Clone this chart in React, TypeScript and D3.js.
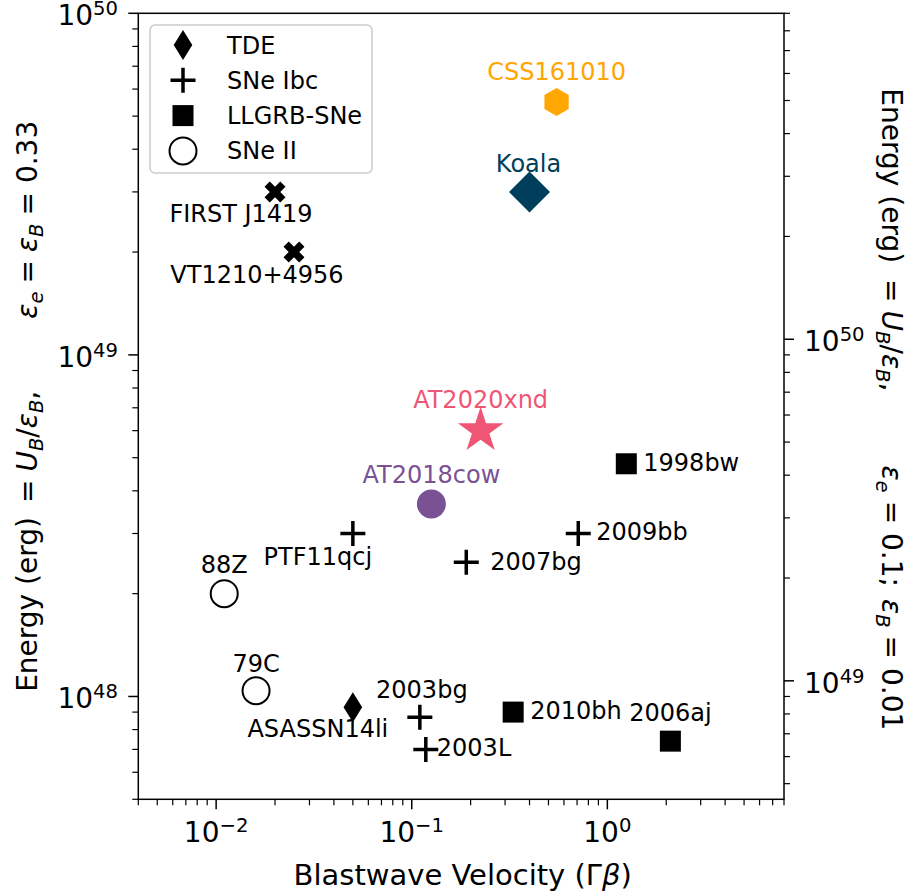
import React from 'react';
import * as d3 from 'd3';

// events shown on the plot
const names = ['FIRST J1419', 'VT1210+4956', 'CSS161010', 'Koala', 'AT2020xnd', 'AT2018cow', '1998bw', '2009bb', '2007bg', 'PTF11qcj', '88Z', '79C', 'ASASSN14li', '2003bg', '2003L', '2010bh', '2006aj'];
const velocity = [0.02, 0.025, 0.55, 0.40, 0.225, 0.126, 1.25, 0.71, 0.19, 0.05, 0.011, 0.016, 0.05, 0.11, 0.118, 0.33, 2.1];
const energy = [3e49, 2e49, 5.5e49, 3e49, 6e48, 3.66e48, 4.8e48, 3e48, 2.47e48, 3e48, 2e48, 1.04e48, 9.3e47, 8.7e47, 7e47, 9e47, 7.4e47];
const kinds = ['x', 'x', 'css', 'koala', 'xnd', 'cow', 'llgrb', 'ibc', 'ibc', 'ibc', 'ii', 'ii', 'tde', 'ibc', 'ibc', 'llgrb', 'llgrb'];

// label offsets from the marker (px): dx, dy to baseline, anchor
const labelPlacement: [number, number, string][] = [
  [-34, 30, 'middle'], [-37, 31, 'middle'], [0, -22, 'middle'], [-1, -20, 'middle'],
  [0, -23, 'middle'], [0, -21, 'middle'], [17, 7, 'start'], [18, 7, 'start'],
  [24, 8, 'start'], [-35, 32, 'middle'], [0, -21, 'middle'], [0, -19, 'middle'],
  [-35, 30, 'middle'], [2, -19, 'middle'], [11, 7, 'start'], [17, 7, 'start'], [0, -20, 'middle'],
];

const legendKinds = ['tde', 'ibc', 'llgrb', 'ii'];
const legendLabels = ['TDE', 'SNe Ibc', 'LLGRB-SNe', 'SNe II'];

const xDomain = [0.004, 8];
const yDomain = [5e47, 1e50];
const rightFactor = 9;

const colors: Record<string, string> = {
  css: '#ffa600',
  koala: '#003f5c',
  xnd: '#ef5675',
  cow: '#7a5195',
};

const FONT = 'DejaVu Sans';
const W = 913;
const H = 896;
const left = 138.3, right = 784, top = 13.3, bottom = 799.3;

const x = d3.scaleLog().domain(xDomain).range([left, right]);
const y = d3.scaleLog().domain(yDomain).range([bottom, top]);
const yR = d3.scaleLog().domain(yDomain.map(d => d * rightFactor)).range([bottom, top]);

function poly(pts: [number, number][]) {
  return 'M' + pts.map(p => p[0].toFixed(2) + ',' + p[1].toFixed(2)).join('L') + 'Z';
}

function Marker({ kind, cx, cy }: { kind: string; cx: number; cy: number }) {
  const t = `translate(${cx},${cy})`;
  if (kind === 'ibc') {
    return <path transform={t} d="M-12.5,0H12.5M0,-12.5V12.5" stroke="#000" strokeWidth={3.5} fill="none" />;
  }
  if (kind === 'llgrb') {
    return <rect transform={t} x={-10.5} y={-10.5} width={21} height={21} fill="#000" />;
  }
  if (kind === 'ii') {
    return <circle cx={cx} cy={cy} r={13.5} fill="#fff" stroke="#000" strokeWidth={2} />;
  }
  if (kind === 'tde') {
    return <path transform={t} d={poly([[0, -15], [9.3, 0], [0, 15], [-9.3, 0]])} fill="#000" />;
  }
  if (kind === 'x') {
    const s = 21;
    const v: [number, number][] = [[-0.25, -0.5], [0, -0.25], [0.25, -0.5], [0.5, -0.25], [0.25, 0], [0.5, 0.25], [0.25, 0.5], [0, 0.25], [-0.25, 0.5], [-0.5, 0.25], [-0.25, 0], [-0.5, -0.25]];
    return <path transform={t} d={poly(v.map(p => [p[0] * s, p[1] * s]))} fill="#000" />;
  }
  if (kind === 'cow') {
    return <circle cx={cx} cy={cy} r={14.5} fill={colors.cow} />;
  }
  if (kind === 'koala') {
    return <path transform={t} d={poly([[0, -20.5], [20.5, 0], [0, 20.5], [-20.5, 0]])} fill={colors.koala} />;
  }
  if (kind === 'css') {
    const pts: [number, number][] = d3.range(6).map(i => {
      const a = (i * Math.PI) / 3;
      return [14 * Math.sin(a), -14 * Math.cos(a)];
    });
    return <path transform={t} d={poly(pts)} fill={colors.css} />;
  }
  if (kind === 'xnd') {
    const R = 24, r = R * 0.381966;
    const pts: [number, number][] = d3.range(10).map(i => {
      const a = (i * Math.PI) / 5;
      const rr = i % 2 === 0 ? R : r;
      return [rr * Math.sin(a), -rr * Math.cos(a)];
    });
    return <path transform={t} d={poly(pts)} fill={colors.xnd} />;
  }
  return null;
}

function Pow({ exp, ...rest }: any) {
  const e = String(exp).replace('-', '\u2212');
  return (
    <text {...rest} fontFamily={FONT} fill="#000">
      <tspan fontSize={28}>10</tspan>
      <tspan fontSize={19.6} dy={-10}>{e}</tspan>
    </text>
  );
}

function minorTicks(domain: number[]) {
  const out: number[] = [];
  const lo = Math.floor(Math.log10(domain[0]));
  const hi = Math.ceil(Math.log10(domain[1]));
  for (let p = lo; p <= hi; p++) {
    for (let m = 2; m <= 9; m++) {
      const v = m * Math.pow(10, p);
      if (v >= domain[0] * 0.9999 && v <= domain[1] * 1.0001) out.push(v);
    }
  }
  return out;
}

function majorTicks(domain: number[]) {
  const out: number[] = [];
  for (let p = Math.ceil(Math.log10(domain[0]) - 1e-9); p <= Math.floor(Math.log10(domain[1]) + 1e-9); p++) out.push(p);
  return out;
}

// subscript pieces used in the axis labels
function Sub({ s }: { s: string }) {
  return <tspan fontSize={19.6} dy={6} fontStyle="italic">{s}</tspan>;
}

export default function App() {
  const rDomain = yDomain.map(d => d * rightFactor);
  return (
    <svg width={W} height={H} style={{ position: 'absolute', left: 0, top: 0, background: '#fff' }} fontFamily={FONT}>
      <rect width={W} height={H} fill="#fff" />

      {/* x ticks */}
      {minorTicks(xDomain).map(v => (
        <line key={'xm' + v} x1={x(v)} x2={x(v)} y1={bottom} y2={bottom + 6} stroke="#000" strokeWidth={1.2} />
      ))}
      {majorTicks(xDomain).map(p => (
        <g key={'xM' + p}>
          <line x1={x(Math.pow(10, p))} x2={x(Math.pow(10, p))} y1={bottom} y2={bottom + 10} stroke="#000" strokeWidth={1.5} />
          <Pow exp={p} x={x(Math.pow(10, p))} y={842} textAnchor="middle" />
        </g>
      ))}

      {/* left y ticks */}
      {minorTicks(yDomain).map(v => (
        <line key={'ym' + v} x1={left - 6} x2={left} y1={y(v)} y2={y(v)} stroke="#000" strokeWidth={1.2} />
      ))}
      {majorTicks(yDomain).map(p => (
        <g key={'yM' + p}>
          <line x1={left - 10} x2={left} y1={y(Math.pow(10, p))} y2={y(Math.pow(10, p))} stroke="#000" strokeWidth={1.5} />
          <Pow exp={p} x={118} y={y(Math.pow(10, p)) + 12} textAnchor="end" />
        </g>
      ))}

      {/* right y ticks */}
      {minorTicks(rDomain).map(v => (
        <line key={'rm' + v} x1={right} x2={right + 6} y1={yR(v)} y2={yR(v)} stroke="#000" strokeWidth={1.2} />
      ))}
      {majorTicks(rDomain).map(p => (
        <g key={'rM' + p}>
          <line x1={right} x2={right + 10} y1={yR(Math.pow(10, p))} y2={yR(Math.pow(10, p))} stroke="#000" strokeWidth={1.5} />
          <Pow exp={p} x={804} y={yR(Math.pow(10, p)) + 12} textAnchor="start" />
        </g>
      ))}

      {/* points */}
      {names.map((n, i) => (
        <Marker key={'m' + n} kind={kinds[i]} cx={x(velocity[i])} cy={y(energy[i])} />
      ))}
      {names.map((n, i) => {
        const [dx, dy, anchor] = labelPlacement[i];
        return (
          <text key={'l' + n} x={x(velocity[i]) + dx} y={y(energy[i]) + dy} textAnchor={anchor as any}
            fontSize={24} fill={colors[kinds[i]] || '#000'}>{n}</text>
        );
      })}

      {/* legend */}
      <rect x={150} y={25} width={222} height={148} rx={5} fill="#fff" fillOpacity={0.8} stroke="#cccccc" strokeWidth={1.5} />
      {legendKinds.map((k, i) => (
        <g key={'lg' + k}>
          <Marker kind={k} cx={183} cy={45 + i * 35.3} />
          <text x={227} y={45 + i * 35.3 + 8.5} fontSize={24} fill="#000">{legendLabels[i]}</text>
        </g>
      ))}

      {/* frame */}
      <rect x={left} y={top} width={right - left} height={bottom - top} fill="none" stroke="#000" strokeWidth={1.5} />

      {/* x label */}
      <text x={462.7} y={885} textAnchor="middle" fontSize={29} fill="#000">
        Blastwave Velocity (Γ<tspan fontStyle="italic">β</tspan>)
      </text>

      {/* left y label */}
      <text transform={`translate(37,${(top + bottom) / 2}) rotate(-90)`} textAnchor="middle" fontSize={28} fill="#000">
        <tspan>Energy (erg)</tspan>
        <tspan dx={14}>=</tspan>
        <tspan dx={8} fontStyle="italic">U</tspan>
        <Sub s="B" />
        <tspan dy={-6}>/</tspan>
        <tspan fontStyle="italic">ε</tspan>
        <Sub s="B" />
        <tspan dy={-6}>,</tspan>
        <tspan dx={72} fontStyle="italic">ε</tspan>
        <Sub s="e" />
        <tspan dy={-6} dx={8}>=</tspan>
        <tspan dx={8} fontStyle="italic">ε</tspan>
        <Sub s="B" />
        <tspan dy={-6} dx={8}>= 0.33</tspan>
      </text>

      {/* right y label */}
      <text transform={`translate(882,${(top + bottom) / 2 + 3}) rotate(90)`} textAnchor="middle" fontSize={28} fill="#000">
        <tspan>Energy (erg)</tspan>
        <tspan dx={16}>=</tspan>
        <tspan dx={8} fontStyle="italic">U</tspan>
        <Sub s="B" />
        <tspan dy={-6}>/</tspan>
        <tspan fontStyle="italic">ε</tspan>
        <Sub s="B" />
        <tspan dy={-6}>,</tspan>
        <tspan dx={74} fontStyle="italic">ε</tspan>
        <Sub s="e" />
        <tspan dy={-6} dx={8}>= 0.1;</tspan>
        <tspan dx={12} fontStyle="italic">ε</tspan>
        <Sub s="B" />
        <tspan dy={-6} dx={8}>= 0.01</tspan>
      </text>
    </svg>
  );
}
